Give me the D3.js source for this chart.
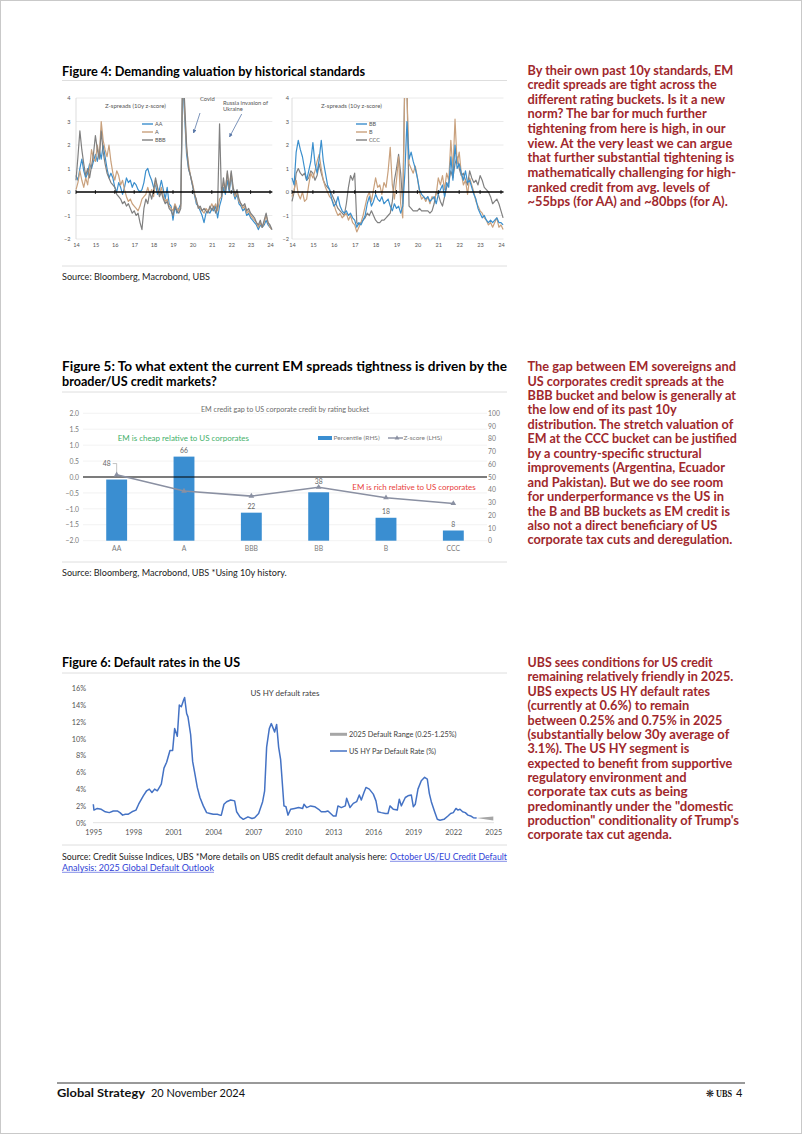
<!DOCTYPE html>
<html><head><meta charset="utf-8">
<script src="https://cdn.jsdelivr.net/npm/d3@7"></script>
<style>body{margin:0;background:#fff}svg{display:block}</style>
</head><body><svg id="page" width="802" height="1134"></svg>
<script>
// ---------------- DATA ----------------
// Figure 4: z-scores, sampled every 0.1 of an axis year from 14.0 to 24.1
const f4Years = d3.range(0, 102).map(i => 14 + i / 10);
const zAA = [0.7,0.5,1.0,1.4,0.9,0.6,0.8,1.2,1.0,1.3, 1.6,1.3,1.8,1.4,2.0,1.5,1.0,0.6,0.8,0.6,
  0.2,0.0,0.4,0.2,-0.1,0.2,0.6,0.4,0.5,0.2, 0.4,0.3,0.1,0.0,0.1,0.4,0.9,1.0,0.7,0.5,
  0.2,0.3,-0.1,0.1,0.5,0.1,-0.3,0.2,-0.5,-0.6, -1.2,-0.6,-0.9,-0.7,-0.5,4.6,3.2,1.6,1.0,0.7,
  0.3,-0.1,-0.5,-0.6,-0.8,-1.0,-1.3,-0.9,-0.8,-0.9, -0.7,-0.8,-0.6,-1.1,-0.6,-0.3,0.2,-0.1,0.5,0.0,
  0.7,0.0,-0.3,-0.1,-0.5,-0.6,-0.8,-0.7,-1.0,-0.9, -1.1,-1.2,-1.3,-1.4,-1.6,-1.4,-1.5,-1.4,-1.2,-1.4, -1.5,-1.6];
const zA = [0.1,0.4,0.9,0.5,0.2,0.6,0.3,1.0,1.8,1.4, 1.3,2.0,1.5,3.0,2.2,1.8,1.5,2.0,1.3,0.8,
  0.5,0.9,0.7,0.3,0.5,0.1,-0.2,-0.4,-0.3,-0.5, -0.6,-0.7,-0.8,-0.6,-0.3,-0.2,-0.1,0.2,-0.1,0.1,
  -0.2,0.5,0.2,-0.1,0.2,-0.2,-0.4,-0.3,-0.6,-0.7, -0.8,-0.5,-0.7,-0.8,-0.6,5.0,3.5,1.8,1.2,0.7,
  0.4,0.0,-0.4,-0.6,-0.7,-0.8,-0.9,-0.7,-0.8,-0.7, -0.5,-0.7,-0.5,-0.8,-0.3,-0.2,0.4,0.1,0.8,0.2,
  0.8,0.1,-0.2,0.0,-0.4,-0.5,-0.7,-0.6,-0.9,-0.8, -1.0,-1.1,-1.2,-1.3,-1.5,-1.3,-1.5,-1.3,-1.0,-1.3, -1.5,-1.6];
const zBBB = [0.5,1.5,2.6,1.8,1.2,0.7,1.0,0.6,1.1,1.6, 2.4,1.8,1.4,2.6,1.7,1.2,0.8,0.6,0.4,0.3,
  0.2,-0.1,-0.2,-0.3,-0.5,-0.4,-0.6,-0.5,-0.7,-0.9, -0.8,-1.0,-0.9,-1.3,-1.6,-0.7,-0.3,-0.5,0.0,-0.3,
  0.1,0.6,0.2,-0.2,0.0,-0.3,-0.5,-0.4,-0.7,-0.8, -1.0,-0.6,-0.8,-0.9,-0.7,5.5,3.8,2.0,1.0,0.7,
  0.3,-0.1,-0.3,-0.7,-0.6,-0.8,-0.7,-0.8,-0.9,-0.6, -0.8,-0.6,-0.9,-0.6,2.9,-0.2,0.6,0.0,0.9,0.1,
  0.9,0.2,-0.1,0.1,-0.3,-0.5,-0.6,-0.5,-0.8,-0.7, -0.9,-1.0,-1.1,-1.3,-1.4,-1.2,-1.5,-1.2,-0.9,-1.3, -1.4,-1.6];
const zBB = [0.6,0.3,1.7,2.2,1.8,1.5,1.0,0.5,0.9,1.3, 2.1,1.2,0.8,1.4,2.2,1.3,0.8,0.3,0.1,-0.3,
  -0.6,-0.5,-0.2,-0.6,-0.8,-0.9,-0.8,-1.0,-0.9,-1.1, -1.2,-1.5,-1.3,-1.4,-1.2,-1.0,-0.5,-0.2,-0.6,-0.4,
  -0.1,-0.3,-0.4,-0.2,-0.5,-0.4,-0.3,-0.6,-0.8,-0.5, -0.7,-0.6,-0.9,-0.6,0.8,3.0,1.4,1.7,1.3,1.0,
  0.6,0.1,-0.1,-0.2,-0.3,-0.2,-0.4,-0.3,-0.2,-0.5, -0.1,0.1,0.3,-0.2,0.4,0.2,1.5,0.5,2.0,1.0,
  1.2,0.8,0.5,0.9,0.4,0.5,0.2,-0.1,-0.3,-0.7, -0.9,-1.1,-1.0,-1.2,-1.3,-1.2,-1.3,-1.2,-1.1,-1.3, -1.3,-1.4];
const zB = [-0.2,0.1,0.5,-0.1,-0.3,0.0,-0.4,-0.3,0.3,0.8, 0.6,0.9,1.3,1.6,1.0,0.5,0.2,0.0,-0.2,-0.3,
  -0.5,-0.8,-1.0,-0.9,-1.1,-1.0,-0.9,-1.2,-1.0,-1.3, -1.4,-1.7,-1.5,-1.3,-1.0,-0.6,-0.2,0.0,-0.4,0.1,
  0.6,0.2,0.3,-0.1,0.4,0.2,0.9,1.9,0.3,-0.3, 0.5,1.5,-0.5,-1.1,5.0,4.2,1.2,1.0,0.8,1.1,
  0.6,0.0,-0.3,-0.2,-0.4,-0.2,-0.5,-0.2,-0.3,-0.1, 0.6,0.3,0.7,0.1,0.8,0.5,2.2,0.9,3.1,1.2,
  1.7,0.8,0.3,0.5,-0.1,0.6,0.3,0.0,-0.4,-0.6, -0.8,-0.9,-1.1,-1.2,-1.4,-1.3,-1.5,-1.3,-1.1,-1.5, -1.4,-1.6];
const zCCC = [-0.4,0.0,0.8,1.0,0.8,0.7,0.8,0.5,0.6,0.9, 0.8,0.5,0.7,1.2,0.8,0.5,0.3,0.2,0.1,-0.1,
  -0.3,-0.5,-0.7,-0.8,-0.9,-1.0,-0.5,0.2,0.7,0.5, 0.8,-1.3,-1.4,-1.3,-1.2,-1.1,-0.9,-1.0,-0.8,-1.0,
  -1.2,-1.3,-1.3,-1.2,-1.2,-1.1,-1.0,-0.9,-0.4,0.5, 1.0,1.6,0.8,-0.5,5.0,4.5,-0.6,-0.7,-0.8,-0.8,
  -0.8,-0.7,-0.8,-0.8,-0.8,-0.8,-0.9,-0.8,-0.5,0.0, -0.1,-0.4,-0.6,-0.2,0.2,0.4,0.9,0.6,1.2,1.5,
  1.0,0.7,0.8,0.5,0.3,0.9,0.6,0.4,0.5,0.3, 0.7,0.5,0.2,0.1,0.0,-0.2,-0.5,-0.4,-0.3,-0.5, -0.8,-1.1];
const f4YearLabels = ["14","15","16","17","18","19","20","21","22","23","24"];

// Figure 5
const f5Cats = ["AA","A","BBB","BB","B","CCC"];
const f5Pct = [48,66,22,38,18,8];
const f5Z = [0.07,-0.44,-0.60,-0.32,-0.65,-0.83];

// Figure 6: US HY par default rate (%)
const defDates = [1995.0,1995.05,1995.3,1995.6,1995.9,1996.2,1996.5,1996.8,1997.0,1997.2,1997.4,1997.6,1997.9,
  1998.2,1998.4,1998.75,1999.0,1999.2,1999.4,1999.6,1999.8,2000.1,2000.3,2000.5,2000.75,2000.95,2001.1,2001.3,
  2001.45,2001.6,2001.75,2001.85,2002.0,2002.1,2002.3,2002.45,2002.6,2002.8,2003.0,2003.25,2003.5,2003.75,
  2004.0,2004.3,2004.5,2004.6,2004.8,2005.0,2005.3,2005.6,2005.75,2006.0,2006.25,2006.6,2006.9,2007.1,2007.4,
  2007.7,2007.85,2008.0,2008.2,2008.35,2008.5,2008.6,2008.75,2008.9,2009.05,2009.3,2009.45,2009.6,2009.8,
  2010.1,2010.4,2010.7,2010.8,2011.0,2011.3,2011.6,2011.9,2012.1,2012.4,2012.6,2013.0,2013.2,2013.35,2013.6,
  2013.9,2014.0,2014.25,2014.5,2014.75,2014.95,2015.1,2015.3,2015.45,2015.7,2016.0,2016.2,2016.35,2016.6,
  2016.9,2017.1,2017.25,2017.5,2017.8,2017.95,2018.1,2018.4,2018.6,2018.85,2019.0,2019.15,2019.35,2019.6,
  2019.85,2020.05,2020.2,2020.35,2020.6,2020.8,2021.0,2021.3,2021.6,2021.8,2022.0,2022.2,2022.35,2022.5,
  2022.7,2022.9,2023.1,2023.3,2023.5,2023.75];
const defRates = [2.2,1.5,1.7,1.6,1.3,1.2,1.4,1.4,1.2,0.9,1.0,1.0,1.3,
  1.5,2.2,3.2,3.8,4.0,3.6,4.0,3.8,4.6,6.5,7.2,8.6,8.6,11.2,10.3,
  14.0,13.8,14.5,14.9,13.0,12.6,10.5,7.3,6.0,4.2,3.0,2.0,1.2,1.1,
  1.0,1.0,0.9,0.9,2.2,2.5,2.7,2.6,1.3,0.7,0.4,0.7,0.5,0.6,1.1,
  2.5,3.8,9.0,11.2,11.8,11.2,10.8,11.7,9.0,7.5,2.0,1.9,0.9,1.6,
  1.7,1.8,1.7,2.2,1.8,2.0,1.9,1.6,1.3,1.3,1.4,0.8,0.8,2.0,1.8,
  2.0,2.9,1.8,2.3,2.5,3.3,2.7,3.6,4.2,4.0,3.4,2.6,1.3,1.2,
  1.1,1.1,2.0,1.6,1.5,2.8,2.0,3.0,3.2,3.3,1.9,2.2,4.0,5.0,
  5.4,5.2,3.5,2.5,1.3,0.4,0.3,0.4,0.8,1.1,1.2,1.7,1.5,1.6,
  1.3,1.2,0.9,0.8,0.6,0.55];
const rangeDates = [2023.75, 2025];
const rangeLow = [0.55, 0.25];
const rangeHigh = [0.55, 0.75];
const f6YTicks = [0,2,4,6,8,10,12,14,16];
const f6XTicks = [1995,1998,2001,2004,2007,2010,2013,2016,2019,2022,2025];

// ---------------- HELPERS ----------------
const svg = d3.select('#page');
const FONT = 'Lato, "Noto Sans", sans-serif';
function T(p, x, y, s, o = {}) {
  const t = p.append('text').attr('x', x).attr('y', y).text(s)
    .attr('font-family', o.family || FONT)
    .attr('font-size', o.size || 8)
    .attr('font-weight', o.weight || 'normal')
    .attr('fill', o.fill || '#000')
    .attr('text-anchor', o.anchor || 'start');
  if (o.len) t.attr('textLength', o.len).attr('lengthAdjust', 'spacingAndGlyphs');
  return t;
}
function hline(y, x1 = 62, x2 = 507, c = '#dedede', w = 1) {
  svg.append('line').attr('x1', x1).attr('x2', x2).attr('y1', y).attr('y2', y)
    .attr('stroke', c).attr('stroke-width', w);
}
svg.append('rect').attr('width', 802).attr('height', 1134).attr('fill', '#fff');
svg.append('rect').attr('x', 0.5).attr('y', 0.5).attr('width', 801).attr('height', 1133)
  .attr('fill', 'none').attr('stroke', '#c9c9c9');
const defs = svg.append('defs');
defs.append('marker').attr('id', 'arr').attr('viewBox', '0 0 10 10').attr('refX', 9).attr('refY', 5)
  .attr('markerWidth', 5).attr('markerHeight', 5).attr('orient', 'auto')
  .append('path').attr('d', 'M0,0L10,5L0,10z').attr('fill', '#5a78a8');

// ---------------- FIGURE 4 ----------------
T(svg, 62, 75.5, 'Figure 4: Demanding valuation by historical standards', {size: 12.5, weight: 'bold', len: 303});
hline(80.5);
hline(266);
T(svg, 62, 279.5, 'Source: Bloomberg, Macrobond, UBS', {size: 8.5, fill: '#222', len: 148});

const BLUE4 = '#3b8fcd', TAN4 = '#c9a17d', GRAY4 = '#808080';
function zChart(id, x0, x1, labelX, series, legendTitleX, legendX, legendY) {
  const x = d3.scaleLinear([14, 24], [x0, x1]);
  const y = d3.scaleLinear([-2, 4], [239, 98]);
  const g = svg.append('g');
  const right = x(24.12);
  g.append('g').selectAll('line').data([-2, -1, 1, 2, 3, 4]).join('line')
    .attr('x1', x0).attr('x2', right).attr('y1', d => y(d)).attr('y2', d => y(d))
    .attr('stroke', '#e4e4e4').attr('stroke-width', 0.8);
  g.append('line').attr('x1', x0).attr('x2', x0).attr('y1', y(4)).attr('y2', y(-2))
    .attr('stroke', '#d4d4d4').attr('stroke-width', 0.8);
  const ya = g.append('g').attr('transform', `translate(${labelX},0)`)
    .call(d3.axisLeft(y).tickValues([-2, -1, 0, 1, 2, 3, 4]).tickSize(0).tickPadding(0).tickFormat(d3.format('d')));
  ya.select('.domain').remove();
  ya.selectAll('text').attr('font-family', FONT).attr('font-size', 5.6).attr('fill', '#555');
  const xa = g.append('g').attr('transform', 'translate(0,243)')
    .call(d3.axisBottom(x).tickValues(d3.range(14, 25)).tickSize(0).tickPadding(0)
      .tickFormat((d, i) => f4YearLabels[i]));
  xa.select('.domain').remove();
  xa.selectAll('text').attr('font-family', FONT).attr('font-size', 5.6).attr('fill', '#555');
  defs.append('clipPath').attr('id', id).append('rect')
    .attr('x', x0 - 1).attr('y', y(4)).attr('width', right - x0 + 3).attr('height', y(-2.2) - y(4));
  const line = d3.line().x((d, i) => x(f4Years[i])).y(d => y(d));
  const lg = g.append('g').attr('clip-path', `url(#${id})`);
  series.forEach(s => {
    lg.append('path').attr('d', line(s.v)).attr('fill', 'none')
      .attr('stroke', s.c).attr('stroke-width', 1.2).attr('stroke-linejoin', 'round');
  });
  g.append('line').attr('x1', x0).attr('x2', right).attr('y1', y(0)).attr('y2', y(0))
    .attr('stroke', '#000').attr('stroke-width', 1.5);
  g.append('g').selectAll('line').data(d3.range(14, 25)).join('line')
    .attr('x1', d => x(d)).attr('x2', d => x(d)).attr('y1', y(0) - 2).attr('y2', y(0) + 2)
    .attr('stroke', '#000').attr('stroke-width', 0.8);
  T(g, legendTitleX, 108, 'Z-spreads (10y z-score)', {size: 6, fill: '#555'});
  series.slice().sort((a, b) => a.o - b.o).forEach((s, i) => {
    const yy = legendY + i * 8;
    g.append('line').attr('x1', legendX).attr('x2', legendX + 11).attr('y1', yy).attr('y2', yy)
      .attr('stroke', s.c).attr('stroke-width', 1.4);
    T(g, legendX + 13, yy + 2, s.n, {size: 5.5, fill: '#555'});
  });
  return {x, y, g};
}
zChart('clipL', 76, 270, 70.5, [
  {n: 'AA', v: zAA, c: BLUE4, o: 0}, {n: 'A', v: zA, c: TAN4, o: 1}, {n: 'BBB', v: zBBB, c: GRAY4, o: 2}
], 105, 142, 124);
zChart('clipR', 292, 501, 289, [
  {n: 'CCC', v: zCCC, c: GRAY4, o: 2}, {n: 'B', v: zB, c: TAN4, o: 1}, {n: 'BB', v: zBB, c: BLUE4, o: 0}
], 321, 356, 124);
T(svg, 200, 100.5, 'Covid', {size: 5.8, fill: '#555'});
svg.append('line').attr('x1', 200).attr('y1', 113).attr('x2', 193.5).attr('y2', 133)
  .attr('stroke', '#5a78a8').attr('stroke-width', 0.8).attr('marker-end', 'url(#arr)');
T(svg, 223, 104.5, 'Russia invasion of', {size: 5.8, fill: '#555'});
T(svg, 223, 110.8, 'Ukraine', {size: 5.8, fill: '#555'});
svg.append('line').attr('x1', 241.7).attr('y1', 114).attr('x2', 229.5).attr('y2', 137)
  .attr('stroke', '#5a78a8').attr('stroke-width', 0.8).attr('marker-end', 'url(#arr)');

// ---------------- FIGURE 5 ----------------
T(svg, 62, 371, 'Figure 5: To what extent the current EM spreads tightness is driven by the', {size: 12.5, weight: 'bold', len: 445});
T(svg, 62, 386, 'broader/US credit markets?', {size: 12.5, weight: 'bold', len: 154.7});
hline(392);
hline(562);
T(svg, 62, 576, 'Source: Bloomberg, Macrobond, UBS *Using 10y history.', {size: 8.5, fill: '#222', len: 224.7});
(function () {
  const g = svg.append('g');
  const x = d3.scaleBand(f5Cats, [83, 487]).paddingInner(0.69).paddingOuter(0.345);
  const yL = d3.scaleLinear([-2, 2], [540.7, 413.3]);
  const yR = d3.scaleLinear([0, 100], [540.7, 413.3]);
  g.append('g').selectAll('line').data(d3.range(-2, 2.01, 0.5)).join('line')
    .attr('x1', 83).attr('x2', 487).attr('y1', d => yL(d)).attr('y2', d => yL(d))
    .attr('stroke', '#efefef').attr('stroke-width', 0.8);
  T(g, 285, 412, 'EM credit gap to US corporate credit by rating bucket', {size: 7.2, fill: '#6d6d6d', anchor: 'middle'})
    .attr('stroke', '#fff').attr('stroke-width', 3).attr('paint-order', 'stroke');
  const al = g.append('g').attr('transform', 'translate(79,0)')
    .call(d3.axisLeft(yL).tickValues(d3.range(-2, 2.01, 0.5)).tickSize(0).tickPadding(0).tickFormat(d3.format('.1f')));
  al.select('.domain').remove();
  al.selectAll('text').attr('font-family', FONT).attr('font-size', 6.8).attr('fill', '#7a7a7a');
  const ar = g.append('g').attr('transform', 'translate(488,0)')
    .call(d3.axisRight(yR).tickValues(d3.range(0, 101, 10)).tickSize(0).tickPadding(0));
  ar.select('.domain').remove();
  ar.selectAll('text').attr('font-family', FONT).attr('font-size', 6.8).attr('fill', '#7a7a7a');
  const ax = g.append('g').attr('transform', 'translate(0,546)')
    .call(d3.axisBottom(x).tickSize(0).tickPadding(0));
  ax.select('.domain').remove();
  ax.selectAll('text').attr('font-family', FONT).attr('font-size', 6.8).attr('fill', '#7a7a7a');
  g.append('g').selectAll('rect').data(f5Pct).join('rect')
    .attr('x', (d, i) => x(f5Cats[i])).attr('width', x.bandwidth())
    .attr('y', d => yR(d)).attr('height', d => yR(0) - yR(d)).attr('fill', '#3a8ed1');
  const lx = x(f5Cats[0]) + x.bandwidth() / 2;
  g.append('path').attr('d', `M${lx - 4},${yR(f5Pct[0]) - 16}H${lx}V${yR(f5Pct[0]) - 3}`)
    .attr('fill', 'none').attr('stroke', '#9a9a9a').attr('stroke-width', 0.6);
  g.append('line').attr('x1', 83).attr('x2', 487).attr('y1', yL(0)).attr('y2', yL(0))
    .attr('stroke', '#000').attr('stroke-width', 1.2);
  const zl = d3.line().x((d, i) => x(f5Cats[i]) + x.bandwidth() / 2).y(d => yL(d));
  g.append('path').attr('d', zl(f5Z)).attr('fill', 'none').attr('stroke', '#8a90a2').attr('stroke-width', 1.6);
  const sym = d3.symbol(d3.symbolTriangle, 14);
  g.append('g').selectAll('path').data(f5Z).join('path')
    .attr('transform', (d, i) => `translate(${x(f5Cats[i]) + x.bandwidth() / 2},${yL(d)})`)
    .attr('d', sym).attr('fill', '#8a90a2');
  // value labels (drawn above the line)
  const lblDx = [-10, 0, 0, 0, 0, 0], lblDy = [-14, -4, -4, -8.5, -4, -4];
  g.append('g').selectAll('text').data(f5Pct).join('text')
    .attr('x', (d, i) => x(f5Cats[i]) + x.bandwidth() / 2 + lblDx[i])
    .attr('y', (d, i) => yR(d) + lblDy[i])
    .attr('text-anchor', 'middle').attr('font-family', FONT).attr('font-size', 6.8).attr('fill', '#666')
    .text(d => d);
  g.append('rect').attr('x', 318).attr('y', 436).attr('width', 14).attr('height', 4).attr('fill', '#3a8ed1');
  T(g, 333.5, 440, 'Percentile (RHS)', {size: 6.5, fill: '#7a7a7a'});
  g.append('line').attr('x1', 388).attr('x2', 403).attr('y1', 438).attr('y2', 438)
    .attr('stroke', '#8a90a2').attr('stroke-width', 1.4);
  g.append('path').attr('transform', 'translate(397,438)').attr('d', d3.symbol(d3.symbolTriangle, 10)).attr('fill', '#8a90a2');
  T(g, 403.5, 440, 'Z-score (LHS)', {size: 6.5, fill: '#7a7a7a'});
  T(g, 117.7, 440.5, 'EM is cheap relative to US corporates', {size: 8, fill: '#3fb06a', len: 131.3});
  T(g, 352.3, 490, 'EM is rich relative to US corporates', {size: 8, fill: '#e8403a', len: 123.4});
})();

// ---------------- FIGURE 6 ----------------
T(svg, 62, 666.8, 'Figure 6: Default rates in the US', {size: 12.5, weight: 'bold', len: 178});
hline(673);
hline(845);
T(svg, 62, 860, 'Source: Credit Suisse Indices, UBS *More details on UBS credit default analysis here: ', {size: 8.5, fill: '#222', len: 325});
T(svg, 390, 860, 'October US/EU Credit Default', {size: 8.5, fill: '#2f3fd6', len: 117});
T(svg, 62, 871, 'Analysis: 2025 Global Default Outlook', {size: 8.5, fill: '#2f3fd6', len: 152});
hline(861.3, 390, 507, '#2f3fd6', 0.6);
hline(872.3, 62, 214, '#2f3fd6', 0.6);
(function () {
  const g = svg.append('g');
  const x = d3.scaleLinear([1995, 2025], [93.3, 493.3]);
  const y = d3.scaleLinear([0, 16], [822.7, 688.3]);
  g.append('line').attr('x1', 93).attr('x2', 494).attr('y1', y(0)).attr('y2', y(0))
    .attr('stroke', '#d9d9d9').attr('stroke-width', 0.8);
  const ay = g.append('g').attr('transform', 'translate(86,0)')
    .call(d3.axisLeft(y).tickValues(f6YTicks).tickSize(0).tickPadding(0).tickFormat(d => d + '%'));
  ay.select('.domain').remove();
  ay.selectAll('text').attr('font-family', FONT).attr('font-size', 7.3).attr('fill', '#555');
  const ax = g.append('g').attr('transform', 'translate(0,829.5)')
    .call(d3.axisBottom(x).tickValues(f6XTicks).tickSize(0).tickPadding(0).tickFormat(d3.format('d')));
  ax.select('.domain').remove();
  ax.selectAll('text').attr('font-family', FONT).attr('font-size', 7.3).attr('fill', '#555');
  const area = d3.area().x((d, i) => x(rangeDates[i])).y0((d, i) => y(rangeLow[i])).y1(d => y(d));
  g.append('path').attr('d', area(rangeHigh)).attr('fill', '#a6a6a6');
  const line = d3.line().x((d, i) => x(defDates[i])).y(d => y(d));
  g.append('path').attr('d', line(defRates)).attr('fill', 'none').attr('stroke', '#4472c4')
    .attr('stroke-width', 1.5).attr('stroke-linejoin', 'round');
  T(g, 285, 695.5, 'US HY default rates', {size: 8, fill: '#404040', anchor: 'middle'});
  g.append('line').attr('x1', 330).attr('x2', 347).attr('y1', 734.3).attr('y2', 734.3)
    .attr('stroke', '#a6a6a6').attr('stroke-width', 3);
  T(g, 349, 737, '2025 Default Range (0.25-1.25%)', {size: 7.3, fill: '#404040'});
  g.append('line').attr('x1', 330).attr('x2', 347).attr('y1', 751).attr('y2', 751)
    .attr('stroke', '#4472c4').attr('stroke-width', 1.5);
  T(g, 349, 753.7, 'US HY Par Default Rate (%)', {size: 7.3, fill: '#404040'});
})();

// ---------------- SIDE TEXT ----------------
const RED = '#a0282c';
const para1 = [['By their own past 10y standards, EM', 733.3], ['credit spreads are tight across the', 716.7],
  ['different rating buckets. Is it a new', 725], ['norm? The bar for much further', 706.7],
  ['tightening from here is high, in our', 725.7], ['view. At the very least we can argue', 732.3],
  ['that further substantial tightening is', 734.3], ['mathematically challenging for high-', 736],
  ['ranked credit from avg. levels of', 710], ['~55bps (for AA) and ~80bps (for A).', 727.7]];
const para2 = [['The gap between EM sovereigns and', 736], ['US corporates credit spreads at the', 724],
  ['BBB bucket and below is generally at', 736], ['the low end of its past 10y', 676.7],
  ['distribution. The stretch valuation of', 733.3], ['EM at the CCC bucket can be justified', 736.7],
  ['by a country-specific structural', 701.7], ['improvements (Argentina, Ecuador', 725],
  ['and Pakistan). But we do see room', 723.3], ['for underperformance vs the US in', 724],
  ['the B and BB buckets as EM credit is', 730], ['also not a direct beneficiary of US', 717.3],
  ['corporate tax cuts and deregulation.', 732.3]];
const para3 = [['UBS sees conditions for US credit', 712.7], ['remaining relatively friendly in 2025.', 733.3],
  ['UBS expects US HY default rates', 710], ['(currently at 0.6%) to remain', 689.3],
  ['between 0.25% and 0.75% in 2025', 722.3], ['(substantially below 30y average of', 729.3],
  ['3.1%). The US HY segment is', 689.3], ['expected to benefit from supportive', 732.3],
  ['regulatory environment and', 686.7], ['corporate tax cuts as being', 687.7],
  ['predominantly under the "domestic', 733.3], ['production" conditionality of Trump\'s', 739],
  ['corporate tax cut agenda.', 671.7]];
function para(lines, y0, step) {
  lines.forEach((l, i) => T(svg, 527.5, y0 + i * step, l[0], {size: 12.3, weight: 'bold', fill: RED, len: l[1] - 527.5}));
}
para(para1, 74.6, 14.63);
para(para2, 371.1, 14.44);
para(para3, 667.1, 14.36);

// ---------------- FOOTER ----------------
hline(1083, 57, 745, '#000', 0.8);
T(svg, 57, 1096.5, 'Global Strategy', {size: 11, weight: 'bold', fill: '#111', len: 88});
T(svg, 151, 1096.5, '20 November 2024', {size: 11, fill: '#111', len: 94});
T(svg, 710, 1096.5, '❋', {size: 10, fill: '#111', anchor: 'middle', family: '"DejaVu Sans"'});
T(svg, 716, 1096.5, 'UBS', {size: 10.5, weight: 'bold', fill: '#111', family: '"Liberation Serif", serif', len: 16});
T(svg, 736, 1096.5, '4', {size: 11, fill: '#111'});
</script></body></html>
